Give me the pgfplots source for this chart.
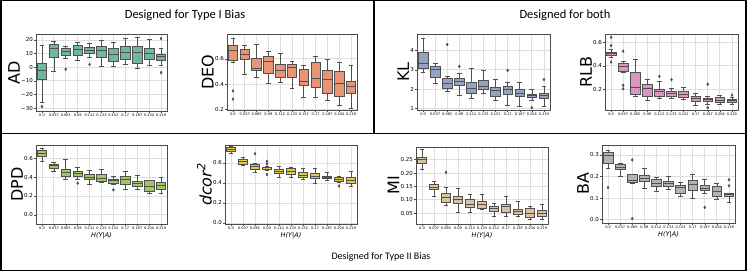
\documentclass[border=0pt]{standalone}
\usepackage{fontspec}
\setmainfont{DejaVu Sans}
\newfontfamily\carlito{Carlito}
\usepackage{pgfplots}
\pgfplotsset{compat=1.18}
\usepgfplotslibrary{statistics}

\definecolor{lc}{RGB}{80,80,80}
\definecolor{cAD}{HTML}{71B6A1}
\definecolor{cDEO}{HTML}{E99575}
\definecolor{cKL}{HTML}{95A3C3}
\definecolor{cRLB}{HTML}{DB96C0}
\definecolor{cDPD}{HTML}{A2C764}
\definecolor{cDCOR}{HTML}{E5C849}
\definecolor{cMI}{HTML}{DBC29E}
\definecolor{cBA}{HTML}{B3B3B3}

\newcommand{\bx}[6]{\addplot[boxplot prepared={draw position=#1,lower whisker=#2,lower quartile=#3,median=#4,upper quartile=#5,upper whisker=#6}] coordinates {};}

\pgfplotsset{
  panel/.style={
    scale only axis, anchor=south west,
    xmin=-0.5, xmax=10.5, xtick={0,...,10},
    xticklabels={0.0,0.037,0.065,0.09,0.112,0.133,0.152,0.17,0.187,0.204,0.219},
    xticklabel style={font=\fontsize{3.5}{4}\selectfont, inner sep=1pt},
    yticklabel style={font=\fontsize{5.5}{6}\selectfont, inner sep=1pt},
    grid=major, major grid style={line width=0.8pt, draw=black!13},
    axis line style={draw=black!70, line width=0.7pt},
    tick align=outside, major tick length=2pt,
    tick style={draw=black!70, line width=0.5pt},
    tick pos=left,
    boxplot/draw direction=y,
    boxplot/box extend=0.8, boxplot/whisker extend=0.4,
    boxplot/every whisker/.style={draw=lc, line width=0.7pt},
    boxplot/every median/.style={draw=lc, line width=1pt},
    ylabel style={font=\fontsize{16}{18}\selectfont, inner sep=0pt},
    xlabel style={font=\fontsize{6.5}{7}\selectfont\itshape, inner sep=1pt},
  },
  bcol/.style={boxplot/every box/.style={draw=lc, fill=#1, line width=0.7pt}},
  outl/.style={only marks, mark=diamond*, mark size=1.4pt, draw=lc, fill=lc},
}

\begin{document}
\begin{tikzpicture}[x=1pt,y=1pt]
\useasboundingbox (0,0) rectangle (747,272);
% frames
\draw[black, line width=1.2pt] (1,1.5) rectangle (746,271.5);
\draw[black, line width=1.2pt] (1,138.5) -- (746,138.5);
\draw[black, line width=1.2pt] (374,138.5) -- (374,271.5);
\node[font=\carlito\fontsize{12.5}{14}\selectfont] at (185,257) {Designed for Type I Bias};
\node[font=\carlito\fontsize{12.5}{14}\selectfont] at (565,257) {Designed for both};
\node[font=\carlito\fontsize{10}{12}\selectfont] at (381,15) {Designed for Type II Bias};

% AD
\begin{axis}[panel, bcol=cAD, at={(36pt,161pt)}, width=131pt, height=77pt,
  ymin=-32.2, ymax=24.4, ytick={-30,-20,-10,0,10,20},
  yticklabels={−30,−20,−10,0,10,20}, ylabel={AD}]
\bx{0}{-26}{-9}{-2.5}{3}{16}
\bx{1}{-3}{7.5}{13.5}{17}{19}
\bx{2}{6.5}{8.5}{11.5}{13.5}{15}
\bx{3}{5}{9}{13}{16}{18}
\bx{4}{7}{10.2}{12.2}{14.6}{17.5}
\bx{5}{0.5}{7.5}{12}{15.5}{20}
\bx{6}{0.5}{4.5}{9.5}{14}{18}
\bx{7}{2}{5.5}{10.5}{15.5}{21.5}
\bx{8}{-0.5}{3}{11}{15.5}{22}
\bx{9}{1.5}{5.5}{10}{14}{20.5}
\bx{10}{1.5}{5}{7.5}{9.5}{13.5}
\addplot[outl] coordinates {(0,-29) (2,-1.5) (4,2) (10,21) (10,-4)};
\end{axis}

% DEO
\begin{axis}[panel, bcol=cDEO, at={(227pt,162pt)}, width=130pt, height=76pt,
  ymin=0.195, ymax=0.796, ytick={0.2,0.4,0.6},
  yticklabels={0.2,0.4,0.6}, ylabel={DEO}]
\bx{0}{0.574}{0.587}{0.665}{0.705}{0.765}
\bx{1}{0.475}{0.592}{0.634}{0.678}{0.71}
\bx{2}{0.45}{0.508}{0.527}{0.605}{0.718}
\bx{3}{0.404}{0.482}{0.58}{0.618}{0.66}
\bx{4}{0.412}{0.45}{0.508}{0.553}{0.64}
\bx{5}{0.365}{0.456}{0.535}{0.556}{0.58}
\bx{6}{0.294}{0.39}{0.417}{0.514}{0.548}
\bx{7}{0.294}{0.373}{0.443}{0.569}{0.62}
\bx{8}{0.273}{0.325}{0.438}{0.508}{0.592}
\bx{9}{0.234}{0.305}{0.404}{0.5}{0.569}
\bx{10}{0.208}{0.325}{0.383}{0.422}{0.548}
\addplot[outl] coordinates {(0,0.346) (0,0.281)};
\end{axis}

% KL
\begin{axis}[panel, bcol=cKL, at={(417pt,162pt)}, width=133pt, height=76pt,
  ymin=0.91, ymax=4.86, ytick={1,2,3,4},
  yticklabels={1,2,3,4}, ylabel={KL}]
\bx{0}{2.89}{3.06}{3.31}{3.88}{4.65}
\bx{1}{2.28}{2.63}{3.0}{3.19}{3.35}
\bx{2}{1.86}{2.03}{2.28}{2.54}{2.68}
\bx{3}{1.65}{2.2}{2.4}{2.54}{2.8}
\bx{4}{1.51}{1.8}{2.03}{2.37}{3.09}
\bx{5}{1.8}{1.98}{2.11}{2.46}{2.97}
\bx{6}{1.43}{1.6}{1.91}{2.11}{2.51}
\bx{7}{1.17}{1.74}{1.98}{2.16}{2.37}
\bx{8}{1.12}{1.6}{1.77}{1.98}{2.37}
\bx{9}{1.43}{1.55}{1.68}{1.74}{1.98}
\bx{10}{1.08}{1.51}{1.68}{1.8}{2.15}
\addplot[outl] coordinates {(2,4.31) (3,3.18) (7,2.97) (9,1.03) (10,2.49)};
\end{axis}

% RLB
\begin{axis}[panel, bcol=cRLB, at={(605pt,162pt)}, width=133pt, height=76pt,
  ymin=0.026, ymax=0.67, ytick={0.2,0.4,0.6},
  yticklabels={0.2,0.4,0.6}, ylabel={RLB}]
\bx{0}{0.474}{0.488}{0.502}{0.516}{0.536}
\bx{1}{0.348}{0.356}{0.398}{0.418}{0.44}
\bx{2}{0.143}{0.157}{0.216}{0.348}{0.452}
\bx{3}{0.104}{0.143}{0.208}{0.241}{0.283}
\bx{4}{0.124}{0.143}{0.18}{0.2}{0.272}
\bx{5}{0.124}{0.138}{0.166}{0.188}{0.208}
\bx{6}{0.115}{0.132}{0.157}{0.188}{0.222}
\bx{7}{0.068}{0.101}{0.124}{0.143}{0.166}
\bx{8}{0.073}{0.096}{0.115}{0.124}{0.143}
\bx{9}{0.073}{0.09}{0.11}{0.129}{0.152}
\bx{10}{0.073}{0.09}{0.104}{0.115}{0.129}
\addplot[outl] coordinates {(0,0.642) (0,0.572) (0,0.432) (1,0.524) (1,0.235) (1,0.205)
  (4,0.311) (5,0.283) (8,0.244) (8,0.045) (10,0.152)};
\end{axis}

% DPD
\begin{axis}[panel, bcol=cDPD, at={(36pt,48pt)}, width=131pt, height=79pt,
  ymin=-0.098, ymax=0.741, ytick={0,0.2,0.4,0.6},
  yticklabels={0.0,0.2,0.4,0.6}, ylabel={DPD}, xlabel={H(Y|A)}]
\bx{0}{0.565}{0.618}{0.653}{0.688}{0.706}
\bx{1}{0.459}{0.494}{0.519}{0.54}{0.554}
\bx{2}{0.378}{0.406}{0.448}{0.484}{0.593}
\bx{3}{0.378}{0.406}{0.434}{0.459}{0.505}
\bx{4}{0.328}{0.371}{0.395}{0.431}{0.477}
\bx{5}{0.343}{0.353}{0.388}{0.424}{0.484}
\bx{6}{0.318}{0.335}{0.36}{0.381}{0.406}
\bx{7}{0.265}{0.325}{0.378}{0.406}{0.459}
\bx{8}{0.275}{0.3}{0.335}{0.36}{0.417}
\bx{9}{0.223}{0.254}{0.3}{0.364}{0.37}
\bx{10}{0.223}{0.275}{0.311}{0.343}{0.395}
\addplot[outl] coordinates {(3,0.335) (6,0.265)};
\end{axis}

% dcor^2
\begin{axis}[panel, bcol=cDCOR, at={(225pt,48pt)}, width=132pt, height=79pt,
  ymin=-0.01, ymax=0.78, ytick={0,0.2,0.4,0.6},
  yticklabels={0.0,0.2,0.4,0.6}, ylabel={\itshape dcor\textsuperscript{2}}, xlabel={H(Y|A)}]
\bx{0}{0.692}{0.721}{0.738}{0.754}{0.764}
\bx{1}{0.574}{0.59}{0.61}{0.633}{0.656}
\bx{2}{0.502}{0.534}{0.561}{0.584}{0.593}
\bx{3}{0.528}{0.541}{0.551}{0.561}{0.567}
\bx{4}{0.452}{0.495}{0.518}{0.534}{0.567}
\bx{5}{0.452}{0.485}{0.511}{0.544}{0.561}
\bx{6}{0.436}{0.452}{0.475}{0.502}{0.544}
\bx{7}{0.393}{0.443}{0.469}{0.492}{0.544}
\bx{8}{0.43}{0.443}{0.459}{0.469}{0.502}
\bx{9}{0.403}{0.42}{0.436}{0.452}{0.469}
\bx{10}{0.364}{0.397}{0.42}{0.452}{0.518}
\addplot[outl] coordinates {(2,0.692) (3,0.616) (3,0.59) (3,0.485) (9,0.37)};
\end{axis}

% MI
\begin{axis}[panel, bcol=cMI, at={(416pt,48pt)}, width=132pt, height=77pt,
  ymin=0.009, ymax=0.2975, ytick={0.05,0.1,0.15,0.2,0.25},
  yticklabels={0.05,0.10,0.15,0.20,0.25}, ylabel={MI}, xlabel={H(Y|A)}]
\bx{0}{0.2125}{0.2375}{0.2525}{0.26}{0.2875}
\bx{1}{0.1125}{0.1375}{0.1475}{0.156}{0.169}
\bx{2}{0.0775}{0.091}{0.11}{0.125}{0.1475}
\bx{3}{0.054}{0.0875}{0.1025}{0.1125}{0.141}
\bx{4}{0.054}{0.071}{0.081}{0.1}{0.121}
\bx{5}{0.0625}{0.069}{0.081}{0.094}{0.121}
\bx{6}{0.0375}{0.056}{0.066}{0.075}{0.0875}
\bx{7}{0.0375}{0.054}{0.075}{0.084}{0.1125}
\bx{8}{0.0375}{0.044}{0.054}{0.0625}{0.094}
\bx{9}{0.025}{0.035}{0.0475}{0.066}{0.075}
\bx{10}{0.025}{0.0375}{0.0475}{0.06}{0.081}
\addplot[outl] coordinates {(2,0.2025)};
\end{axis}

% BA
\begin{axis}[panel, bcol=cBA, at={(602pt,49pt)}, width=133pt, height=78pt,
  ymin=-0.0154, ymax=0.346, ytick={0,0.1,0.2,0.3},
  yticklabels={0.0,0.1,0.2,0.3}, ylabel={BA}, xlabel={H(Y|A)}]
\bx{0}{0.238}{0.262}{0.297}{0.312}{0.323}
\bx{1}{0.2}{0.231}{0.242}{0.254}{0.262}
\bx{2}{0.169}{0.174}{0.182}{0.211}{0.212}
\bx{3}{0.146}{0.177}{0.192}{0.205}{0.238}
\bx{4}{0.131}{0.154}{0.169}{0.185}{0.197}
\bx{5}{0.142}{0.154}{0.166}{0.177}{0.203}
\bx{6}{0.108}{0.123}{0.149}{0.157}{0.172}
\bx{7}{0.1}{0.138}{0.162}{0.18}{0.208}
\bx{8}{0.123}{0.134}{0.146}{0.157}{0.185}
\bx{9}{0.092}{0.108}{0.131}{0.154}{0.169}
\bx{10}{0.082}{0.108}{0.115}{0.12}{0.123}
\addplot[outl] coordinates {(0,0.149) (2,0.277) (2,0.005) (8,0.057) (10,0.185) (10,0.157)};
\end{axis}
\end{tikzpicture}
\end{document}
